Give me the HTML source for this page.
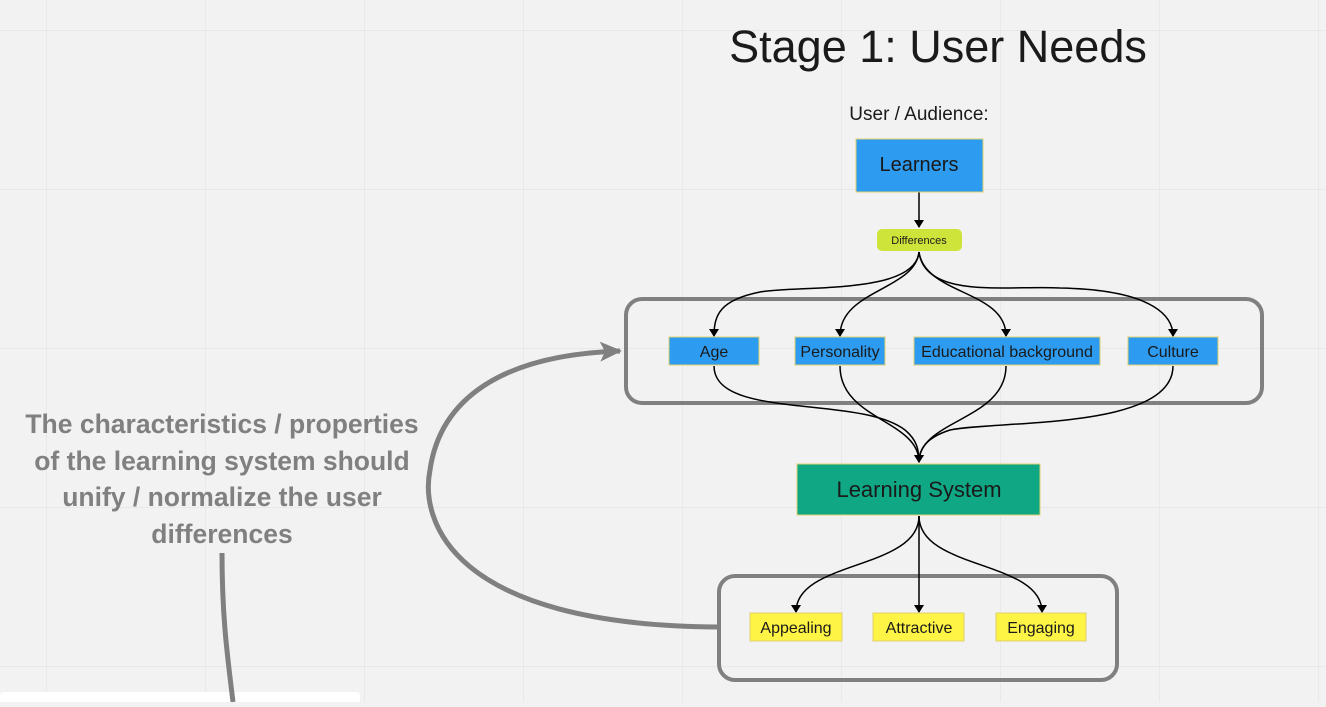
<!DOCTYPE html>
<html><head><style>
body{margin:0;width:1326px;height:702px;overflow:hidden;background:#f2f2f2;font-family:"Liberation Sans",sans-serif}
</style></head><body>
<svg width="1326" height="702" xmlns="http://www.w3.org/2000/svg">
<defs>
<pattern id="g" x="46" y="30" width="159" height="159" patternUnits="userSpaceOnUse">
<path d="M0 0V159M0 0H159" stroke="#e2e2e2" stroke-width="1.2" fill="none"/>
</pattern>
<marker id="a" markerWidth="8" markerHeight="10" refX="7" refY="5" orient="auto" markerUnits="userSpaceOnUse">
<path d="M0 0L8 5L0 10Z" fill="#000"/></marker>
<marker id="ga" markerWidth="24" markerHeight="24" refX="20" refY="12" orient="auto" markerUnits="userSpaceOnUse">
<path d="M0 2L22 12L0 22L5 12Z" fill="#808080"/></marker>
</defs>
<rect width="1326" height="702" fill="url(#g)"/>
<rect x="0" y="692" width="360" height="12" rx="4" fill="#fff"/>
<text x="938" y="62" font-size="45" text-anchor="middle" fill="#1a1a1a">Stage 1: User Needs</text>
<text x="919" y="120" font-size="19" text-anchor="middle" fill="#1a1a1a">User / Audience:</text>
<rect x="626" y="299" width="636" height="104" rx="16" fill="none" stroke="#808080" stroke-width="4"/>
<rect x="719" y="576" width="398" height="104" rx="16" fill="none" stroke="#808080" stroke-width="4"/>
<g fill="none" stroke="#000" stroke-width="1.5">
<path d="M919 192V227" marker-end="url(#a)"/>
<path d="M919 252C915 295 800 285 760 292C720 300 714 315 714 336" marker-end="url(#a)"/>
<path d="M919 252C915 290 840 290 840 336" marker-end="url(#a)"/>
<path d="M919 252C925 295 1006 290 1006 336" marker-end="url(#a)"/>
<path d="M919 252C925 300 1010 285 1060 288C1160 290 1173 320 1173 336" marker-end="url(#a)"/>
<path d="M714 366C714 420 860 395 905 430C917 440 919 450 919 462" marker-end="url(#a)"/>
<path d="M840 366C840 420 919 420 919 462" marker-end="url(#a)"/>
<path d="M1006 366C1006 420 919 420 919 462"/>
<path d="M1173 366C1173 430 1000 420 950 430C925 438 919 450 919 462"/>
<path d="M919 516C919 570 796 560 796 612" marker-end="url(#a)"/>
<path d="M919 516V612" marker-end="url(#a)"/>
<path d="M919 516C919 570 1042 560 1042 612" marker-end="url(#a)"/>
</g>
<path d="M717 627C450 625 420 520 430 470C440 400 500 355 620 351" fill="none" stroke="#808080" stroke-width="5" marker-end="url(#ga)"/>
<path d="M222 553C222 620 228 660 233 702" fill="none" stroke="#808080" stroke-width="5"/>
<rect x="856" y="139" width="127" height="53" fill="#2d9bf0" stroke="#e0d070"/>
<text x="919" y="171" font-size="20" text-anchor="middle" fill="#1a1a1a">Learners</text>
<rect x="877" y="229" width="85" height="22" rx="5" fill="#cfe43a"/>
<text x="919" y="244" font-size="11" text-anchor="middle" fill="#1a1a1a">Differences</text>
<g font-size="16" text-anchor="middle" fill="#1a1a1a">
<rect x="669" y="337" width="90" height="28" fill="#2d9bf0" stroke="#e0d070"/><text x="714" y="357">Age</text>
<rect x="795" y="337" width="90" height="28" fill="#2d9bf0" stroke="#e0d070"/><text x="840" y="357">Personality</text>
<rect x="914" y="337" width="186" height="28" fill="#2d9bf0" stroke="#e0d070"/><text x="1007" y="357">Educational background</text>
<rect x="1128" y="337" width="90" height="28" fill="#2d9bf0" stroke="#e0d070"/><text x="1173" y="357">Culture</text>
<rect x="750" y="613" width="92" height="28" fill="#fef445" stroke="#e0d070"/><text x="796" y="633">Appealing</text>
<rect x="873" y="613" width="91" height="28" fill="#fef445" stroke="#e0d070"/><text x="919" y="633">Attractive</text>
<rect x="996" y="613" width="90" height="28" fill="#fef445" stroke="#e0d070"/><text x="1041" y="633">Engaging</text>
</g>
<rect x="797" y="464" width="243" height="51" fill="#0fa784" stroke="#e0d070"/>
<text x="919" y="497" font-size="22" text-anchor="middle" fill="#1a1a1a">Learning System</text>
<g font-size="26.5" font-weight="bold" fill="#808080" text-anchor="middle">
<text x="222" y="433">The  characteristics / properties</text>
<text x="222" y="470">of the learning system should</text>
<text x="222" y="506">unify / normalize the user</text>
<text x="222" y="543">differences</text>
</g>
</svg>
</body></html>
